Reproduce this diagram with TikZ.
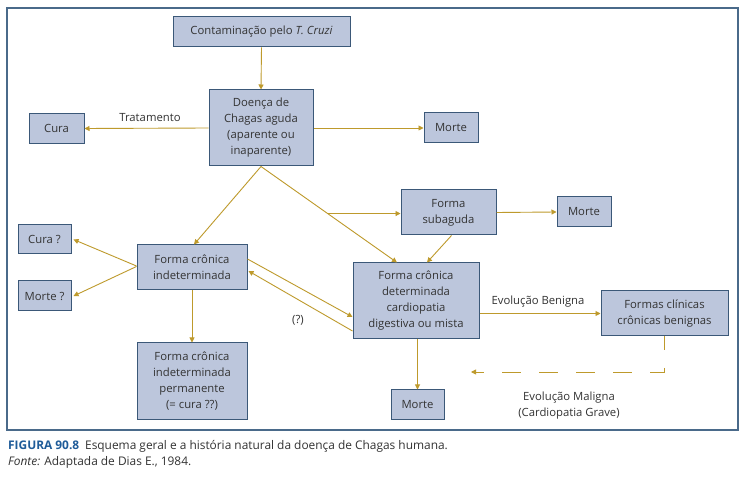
\documentclass[tikz,border=0pt]{standalone}
\usepackage{fontspec}
\setmainfont{Open Sans}
\usetikzlibrary{arrows.meta,calc}
\definecolor{boxfill}{HTML}{BCC6DC}
\definecolor{boxdraw}{HTML}{3B5878}
\definecolor{arr}{HTML}{BE9A2C}
\definecolor{framec}{HTML}{4A6A8A}
\definecolor{capblue}{HTML}{1F5C99}
\definecolor{txt}{HTML}{333333}
\tikzset{
  box/.style={draw=boxdraw, line width=1pt, fill=boxfill, text=txt, align=center,
    font=\fontsize{11.3}{16}\selectfont, inner sep=0pt},
  con/.style={draw=arr, line width=0.9pt, -{Triangle[width=5pt,length=5pt]}},
  lbl/.style={text=txt, font=\fontsize{11.3}{15.5}\selectfont, align=center, inner sep=0pt},
  captext/.style={anchor=west, inner sep=0pt, font=\fontsize{11.9}{13}\selectfont, text=txt},
}
\begin{document}
\begin{tikzpicture}[x=1pt,y=-1pt]
\useasboundingbox (0,0) rectangle (742,478);
\fill[white] (0,0) rectangle (742,478);
\draw[framec, line width=1.2pt] (7,8) rectangle (738,430);

\node[box, minimum width=177pt, minimum height=30pt] (cont) at (261.5,32) {Contaminação pelo \textit{T. Cruzi}};
\node[box, minimum width=104pt, minimum height=76pt] (acute) at (261,128) {Doença de\\Chagas aguda\\(aparente ou\\inaparente)};
\node[box, minimum width=55pt, minimum height=30pt] (cura) at (56.5,128.5) {Cura};
\node[box, minimum width=54pt, minimum height=30pt] (morte1) at (451,128) {Morte};
\node[box, minimum width=95pt, minimum height=45pt] (sub) at (448.5,212.5) {Forma\\subaguda};
\node[box, minimum width=54pt, minimum height=30pt] (morte2) at (584,212) {Morte};
\node[box, minimum width=53pt, minimum height=29pt] (curaq) at (44.5,239.5) {Cura ?};
\node[box, minimum width=53pt, minimum height=30pt] (morteq) at (44.5,296) {Morte ?};
\node[box, minimum width=110pt, minimum height=45pt] (indet) at (192,267.5) {Forma crônica\\indeterminada};
\node[box, minimum width=126pt, minimum height=76pt] (det) at (416,301) {Forma crônica\\determinada\\cardiopatia\\digestiva ou mista};
\node[box, minimum width=127pt, minimum height=45pt] (benig) at (664.5,313.5) {Formas clínicas\\crônicas benignas};
\node[box, minimum width=110pt, minimum height=76pt] (perm) at (192,381) {Forma crônica\\indeterminada\\permanente\\(= cura ??)};
\node[box, minimum width=53pt, minimum height=29pt] (morte3) at (417.5,404.5) {Morte};

\node[lbl] (trat) at (150,118) {Tratamento};
\node[lbl] (evb) at (538,302) {Evolução Benigna};
\node[lbl] (q) at (298,320) {(?)};
\node[lbl] (evm) at (569,405.5) {Evolução Maligna\\(Cardiopatia Grave)};

\coordinate (dettop) at ($(det.north)+(-19,0)$);
\coordinate (br) at ($(acute.south)!0.49!(dettop)$);
\coordinate (dashend) at (471,372);

\draw[con] (cont.south) -- (acute.north);
\draw[con] (acute.west) -- (cura.east);
\draw[con] (acute.east) -- (morte1.west);
\draw[con] (acute.south) -- ([xshift=2pt]indet.north);
\draw[con] (acute.south) -- (dettop);
\draw[con] (br) -- (br -| sub.west);
\draw[con] ([xshift=3pt]sub.south) -- ([xshift=11pt]det.north);
\draw[con] (sub.east) -- (morte2.west);
\draw[con] ([yshift=1.5pt]indet.west) -- ([xshift=2pt]curaq.east);
\draw[con] ([yshift=1pt]indet.west) -- ([xshift=2pt]morteq.east);
\draw[con] ([yshift=8.5pt]indet.east) -- ([yshift=-16pt]det.west);
\draw[con] ([yshift=-30pt]det.west) -- ([yshift=-3.5pt,xshift=1pt]indet.east);
\draw[con] (indet.south) -- (perm.north);
\draw[con] (morte3.north |- det.south) -- (morte3.north);
\draw[con] (det.east |- benig.west) -- (benig.west);
\draw[con, dash pattern=on 19pt off 18pt, dash phase=5.5pt] (benig.south) |- (dashend);

\node[captext] (cap1) at (8,446)
  {\textcolor{capblue}{\bfseries FIGURA 90.8}\enspace Esquema geral e a história natural da doença de Chagas humana.};
\node[captext] (cap2) at (8,462)
  {\textit{Fonte:} Adaptada de Dias E., 1984.};
\end{tikzpicture}
\end{document}
